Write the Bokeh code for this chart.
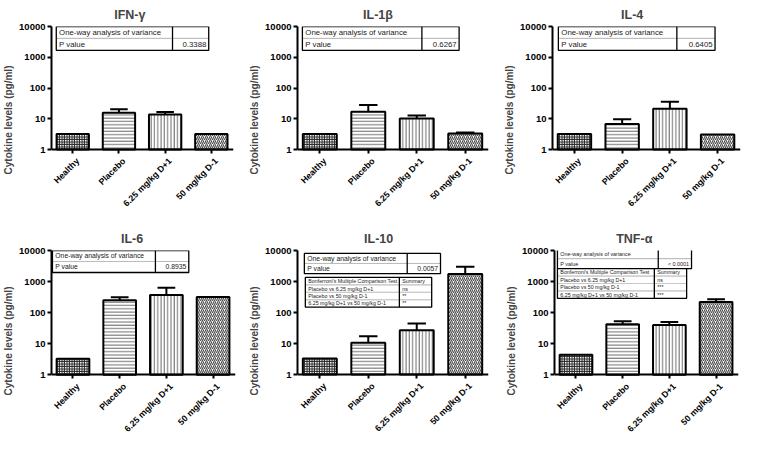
import math
from bokeh.plotting import figure
from bokeh.layouts import row, column
from bokeh.models import (ColumnDataSource, Range1d, FixedTicker,
                          NumeralTickFormatter, BoxAnnotation, Label)
from bokeh.embed import file_html
from bokeh.resources import INLINE

NaN = float("nan")

# ---------------- data ----------------
groups = ["Healthy", "Placebo", "6.25 mg/kg D+1", "50 mg/kg D-1"]
y_ticks = [1, 10, 100, 1000, 10000]
y_label = "Cytokine levels (pg/ml)"
panel_titles = ["IFN-γ", "IL-1β", "IL-4", "IL-6", "IL-10", "TNF-α"]

ifn_gamma_mean = [3.2, 15.8, 13.7, 3.2]
ifn_gamma_upper = [NaN, 20.5, 16.5, NaN]
il1b_mean = [3.2, 17.0, 10.2, 3.3]
il1b_upper = [NaN, 28.0, 12.7, 3.6]
il4_mean = [3.2, 6.7, 21.0, 3.1]
il4_upper = [NaN, 9.7, 36.0, NaN]
il6_mean = [3.3, 250.0, 370.0, 320.0]
il6_upper = [NaN, 315.0, 630.0, NaN]
il10_mean = [3.3, 10.5, 27.0, 1750.0]
il10_upper = [NaN, 17.0, 44.0, 3000.0]
tnfa_mean = [4.4, 42.0, 40.0, 220.0]
tnfa_upper = [NaN, 53.0, 50.0, 270.0]

means = [ifn_gamma_mean, il1b_mean, il4_mean, il6_mean, il10_mean, tnfa_mean]
uppers = [ifn_gamma_upper, il1b_upper, il4_upper, il6_upper, il10_upper, tnfa_upper]

anova_header = "One-way analysis of variance"
p_label = "P value"
p_values = ["0.3388", "0.6267", "0.6405", "0.8935", "0.0057", "< 0.0001"]
bonf_header = ["Bonferroni's Multiple Comparison Test", "Summary"]
bonf_comparisons = ["Placebo vs 6.25 mg/kg D+1", "Placebo vs 50 mg/kg D-1",
                    "6.25 mg/kg D+1 vs 50 mg/kg D-1"]
il10_summary = ["ns", "**", "**"]
tnfa_summary = ["ns", "***", "***"]
bonf_summaries = [None, None, None, None, il10_summary, tnfa_summary]

# ---------------- styles / layout ----------------
FONT = "Liberation Sans"
HATCH = ["cross", "horizontal_line", "vertical_line", "right_diagonal_line"]
HATCH_SCALE = [2.5, 3.3, 3.3, 4.0]
HATCH_WEIGHT = [1.5, 1.0, 1.0, 1.2]
HATCH_COLOR = ["#262626", "#6a6a6a", "#6a6a6a", "#505050"]

SX, SY = 744 / 760, 435 / 451
FIG_W = [245, 250, 249]
FIG_H = [217, 218]
FIG_X0 = [0, 250, 505]
FIG_Y0 = [0, 225]
BOTTOM_BORDER = 4
FRAMES = [(47, 238, 24, 153), (303, 498, 24, 153), (563, 755, 24, 153),
          (47, 240, 258, 388), (303, 498, 259, 388), (565, 753, 258, 388)]
TITLE_LEFT = [111, 370, 633, 118, 371, 628]
TABLE1 = [(52, 212, 24, 49, 174, 7.8), (308, 468, 24, 49, 430, 7.8),
          (569, 729, 24, 49, 690, 7.8), (48, 191, 258, 281, 156, 6.8),
          (310, 449, 262, 283, 415, 6.8), (568, 705, 256, 277, 671, 5.4)]
TABLE2 = [None, None, None, None, (311, 440, 287, 318, 407, 5.3),
          (568, 700, 277, 308, 667, 5.3)]
X0, X1 = -0.46, 3.48
CAP = 0.19


def box(p, l, r, t, b, line_color="black", lw=1.3, fill=None):
    p.add_layout(BoxAnnotation(left=l, right=r, top=t, bottom=b,
                               fill_color=fill if fill else "white",
                               fill_alpha=1.0 if fill else 0.0,
                               line_color=line_color, line_alpha=1.0,
                               line_width=lw))


def make_panel(i):
    r, c = divmod(i, 3)
    L, R, T, B = FRAMES[i]
    fx0, fy0 = FIG_X0[c], FIG_Y0[r]
    w, h = FIG_W[c], FIG_H[r]
    bl = round((L - fx0) * SX)
    br = w - round((R - fx0) * SX)
    bt = round((T - fy0) * SY)
    y_one = round((B - fy0) * SY)          # pixel row of y = 1
    decade = (y_one - bt) / 4.0
    y_min = 10 ** (-((h - BOTTOM_BORDER) - y_one) / decade)

    def xd(px):
        return X0 + (px - L) / (R - L) * (X1 - X0)

    def yd(py):
        return 10 ** (4 * (B - py) / (B - T))

    p = figure(width=w, height=h, y_axis_type="log",
               x_range=Range1d(X0, X1), y_range=Range1d(y_min, 10000),
               output_backend="svg", toolbar_location=None,
               min_border_left=bl, min_border_right=br,
               min_border_top=bt, min_border_bottom=BOTTOM_BORDER)
    p.outline_line_color = None
    p.grid.visible = False
    p.background_fill_color = "white"

    # title
    p.title.text = panel_titles[i]
    p.title.align = "left"
    p.title.offset = (TITLE_LEFT[i] - L) * SX
    p.title.text_font = FONT
    p.title.text_font_size = "12.5px"
    p.title.text_font_style = "bold"
    p.title.standoff = 10

    # bars
    xs = list(range(len(groups)))
    src = ColumnDataSource(dict(x=xs, top=means[i], bottom=[1] * 4,
                                hatch=HATCH, hscale=HATCH_SCALE,
                                hweight=HATCH_WEIGHT, hcolor=HATCH_COLOR))
    p.vbar(x="x", top="top", bottom="bottom", width=0.7, source=src,
           fill_color="white", line_color="black", line_width=2,
           hatch_pattern="hatch", hatch_scale="hscale",
           hatch_color="hcolor", hatch_weight="hweight")

    # error bars (upper only)
    ex, e0, e1 = [], [], []
    for k in xs:
        u = uppers[i][k]
        if not math.isnan(u):
            ex.append(k); e0.append(means[i][k]); e1.append(u)
    esrc = ColumnDataSource(dict(x=ex, y0=e0, y1=e1,
                                 xl=[v - CAP for v in ex],
                                 xr=[v + CAP for v in ex]))
    p.segment(x0="x", y0="y0", x1="x", y1="y1", source=esrc,
              line_color="black", line_width=2)
    p.segment(x0="xl", y0="y1", x1="xr", y1="y1", source=esrc,
              line_color="black", line_width=2)

    # axes
    for ax in (p.xaxis, p.yaxis):
        ax.axis_line_width = 2
        ax.axis_line_color = "black"
        ax.major_tick_line_width = 2
        ax.major_tick_line_color = "black"
        ax.major_tick_out = 4
        ax.major_tick_in = 0
        ax.minor_tick_line_color = None
        ax.major_label_text_font = FONT
        ax.major_label_text_font_style = "bold"
        ax.major_label_text_color = "black"
        ax.major_label_standoff = 2
    p.xaxis.ticker = FixedTicker(ticks=xs)
    p.xaxis.major_label_overrides = {k: "" for k in xs}
    p.xaxis.major_label_text_font_size = "0px"
    p.xaxis.major_label_standoff = 0
    p.xaxis.fixed_location = 1
    p.yaxis.bounds = (1, 10000)
    p.yaxis.ticker = FixedTicker(ticks=y_ticks)
    p.yaxis.formatter = NumeralTickFormatter(format="0")
    p.yaxis.major_label_text_font_size = "9.5px"
    p.yaxis.axis_label = y_label
    p.yaxis.axis_label_text_font = FONT
    p.yaxis.axis_label_text_font_style = "bold"
    p.yaxis.axis_label_text_font_size = "10px"
    p.yaxis.axis_label_standoff = 2

    # rotated category labels (end of text at the tick)
    for k, g in enumerate(groups):
        p.add_layout(Label(x=k, y=1, text=g, angle=math.pi / 4,
                           text_align="right", text_baseline="middle",
                           x_offset=5, y_offset=-10, text_font=FONT,
                           text_font_size="8.8px", text_font_style="bold",
                           text_color="black"))

    # ANOVA table
    tl, tr, tt, tb, td, fs = TABLE1[i]
    tm = (tt + tb) / 2
    box(p, xd(tl), xd(tr), yd(tt), yd(tb), fill="white", line_color=None, lw=0)
    box(p, xd(tl), xd(tr), yd(tm), yd(tm), line_color="#bdbdbd", lw=1)
    box(p, xd(td), xd(td), yd(tt), yd(tb), line_color="black", lw=1.3)
    box(p, xd(tl), xd(tr), yd(tt), yd(tb), line_color="black", lw=1.3)
    for text, py, px, al in [(anova_header, (tt + tm) / 2, tl + 3, "left"),
                             (p_label, (tm + tb) / 2, tl + 3, "left"),
                             (p_values[i], (tm + tb) / 2, tr - 2.5, "right")]:
        p.add_layout(Label(x=xd(px), y=yd(py), text=text, text_font=FONT,
                           text_font_size=f"{fs}px", text_align=al,
                           text_baseline="middle", text_color="#222222"))

    # Bonferroni table
    if TABLE2[i] is not None:
        tl, tr, tt, tb, td, fs = TABLE2[i]
        rh = (tb - tt) / 4
        box(p, xd(tl), xd(tr), yd(tt), yd(tb), fill="white", line_color=None, lw=0)
        for k in range(1, 4):
            yy = tt + k * rh
            box(p, xd(tl), xd(tr), yd(yy), yd(yy), line_color="#c8c8c8", lw=1)
        box(p, xd(td), xd(td), yd(tt), yd(tb), line_color="black", lw=1.3)
        box(p, xd(tl), xd(tr), yd(tt), yd(tb), line_color="black", lw=1.3)
        rows_txt = [bonf_header] + [[cmp, s] for cmp, s in
                                    zip(bonf_comparisons, bonf_summaries[i])]
        for k, (a, b) in enumerate(rows_txt):
            py = tt + (k + 0.5) * rh
            p.add_layout(Label(x=xd(tl + 3), y=yd(py), text=a, text_font=FONT,
                               text_font_size=f"{fs}px", text_align="left",
                               text_baseline="middle", text_color="#222222"))
            p.add_layout(Label(x=xd(td + 3), y=yd(py), text=b, text_font=FONT,
                               text_font_size=f"{fs}px", text_align="left",
                               text_baseline="middle", text_color="#222222"))
    return p


panels = [make_panel(i) for i in range(6)]
layout = column(row(*panels[:3]), row(*panels[3:]))
open("out.html", "w").write(file_html(layout, INLINE))
